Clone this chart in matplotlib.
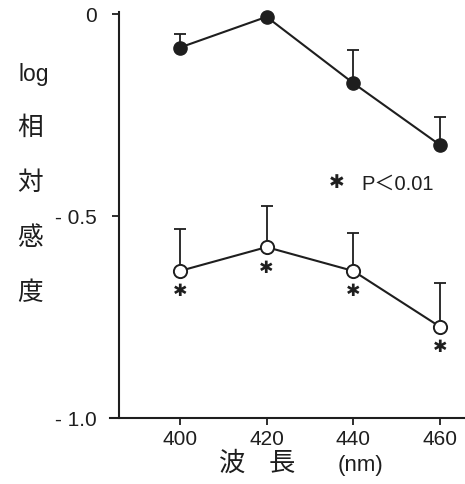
import matplotlib
matplotlib.use("Agg")
import matplotlib.pyplot as plt
import numpy as np

# wavelength (nm)
wavelength = [400, 420, 440, 460]

# log relative sensitivity, filled circles (upper SD)
filled_mean = [-0.083, -0.007, -0.171, -0.324]
filled_err = [0.033, 0.0, 0.082, 0.07]

# open circles (upper SD), all marked * (P<0.01)
open_mean = [-0.636, -0.577, -0.636, -0.774]
open_err = [0.104, 0.102, 0.094, 0.108]

yticks = [0, -0.5, -1.0]
ytick_labels = ["0", "- 0.5", "- 1.0"]

ink = "#1e1e1e"
num_font = ["Liberation Sans", "Noto Sans CJK JP"]
jp_font = ["Noto Sans CJK JP", "DejaVu Sans"]
star_font = ["DejaVu Sans"]

fig = plt.figure(figsize=(4.65, 4.85), dpi=100)
ax = fig.add_axes([110 / 465, 66 / 485, 355 / 465, 404 / 485])

ax.set_xlim(383.85, 465.8)
ax.set_ylim(-1.0, 0.0)

# error bars (upper only) behind the markers
for mean, err in [(filled_mean, filled_err), (open_mean, open_err)]:
    ax.errorbar(wavelength, mean, yerr=[np.zeros(len(err)), err], fmt="none",
                ecolor=ink, elinewidth=1.3, capsize=4, capthick=1.3, zorder=2)

ax.plot(wavelength, filled_mean, color=ink, lw=1.5, marker="o", ms=9.5,
        mfc=ink, mec=ink, zorder=3, clip_on=False)
ax.plot(wavelength, open_mean, color=ink, lw=1.5, marker="o", ms=9.5,
        mfc="white", mec=ink, mew=1.4, zorder=3, clip_on=False)

# significance stars under the open circles
for x, y in zip(wavelength, open_mean):
    ax.annotate("✱", (x, y), xytext=(0, -14), textcoords="offset points",
                ha="center", va="center", fontsize=12.5,
                color=ink, family=star_font)

# note: * P<0.01
fig.text(337 / 465, 1 - 182 / 485, "✱", ha="center", va="center", fontsize=13.5,
         color=ink, family=star_font)
fig.text(361 / 465, 1 - 184 / 485, "P＜0.01", ha="left", va="center",
         fontsize=14.5, color=ink, family=num_font)

# axes styling
for side in ["top", "right"]:
    ax.spines[side].set_visible(False)
ax.spines["left"].set_position(("data", 385.9))
ax.spines["left"].set_bounds(-1.0, 0.005)
for side in ["left", "bottom"]:
    ax.spines[side].set_linewidth(1.5)
    ax.spines[side].set_color(ink)

ax.set_yticks(yticks)
ax.set_yticklabels(ytick_labels)
ax.set_xticks(wavelength)
ax.tick_params(axis="both", direction="out", length=5, width=1.3, color=ink,
               labelcolor=ink, labelsize=15)
ax.tick_params(axis="y", pad=11)
ax.tick_params(axis="x", pad=3)
for lab in ax.get_xticklabels() + ax.get_yticklabels():
    lab.set_family(num_font)

# vertical y label
fig.text(34 / 465, 1 - 75 / 485, "log", ha="center", va="center", fontsize=16.5,
         color=ink, family=num_font)
for ch, yp in zip("相対感度", [128, 183, 238, 293]):
    fig.text(30 / 465, 1 - yp / 485, ch, ha="center", va="center", fontsize=18.5,
             color=ink, family=jp_font)

# x label
fig.text(232 / 465, 1 - 463 / 485, "波", ha="center", va="center", fontsize=19,
         color=ink, family=jp_font)
fig.text(282 / 465, 1 - 463 / 485, "長", ha="center", va="center", fontsize=19,
         color=ink, family=jp_font)
fig.text(360 / 465, 1 - 466 / 485, "(nm)", ha="center", va="center", fontsize=16,
         color=ink, family=num_font)

fig.savefig("out.png", dpi=100)
